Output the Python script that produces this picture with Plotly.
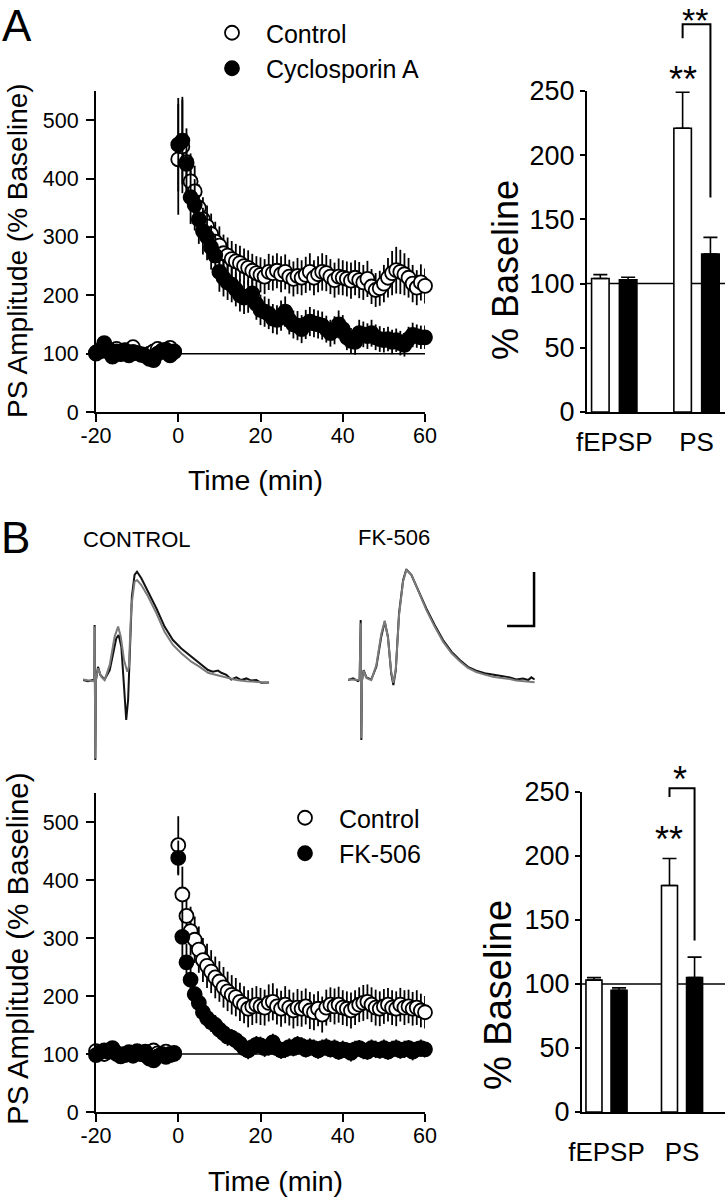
import plotly.graph_objects as go

W, H = 725, 1199
FONT = "Liberation Sans, Arial, Helvetica, sans-serif"

# ---------------- DATA ----------------
BASE_T = list(range(-20, 0))
POST_T = list(range(0, 61))
X_TICKS = [-20, 0, 20, 40, 60]
X_TICK_TEXT = ["-20", "0", "20", "40", "60"]
Y_TICKS_TC = [0, 100, 200, 300, 400, 500]
Y_TICKS_BAR = [0, 50, 100, 150, 200, 250]

# Panel A time course
A_CTRL_BASE = [102, 106, 110, 103, 100, 108, 99, 104, 106, 111, 101, 99, 97, 100, 104, 108, 105, 103, 110, 104]
A_CTRL_BASE_ERR = [6, 7, 8, 6, 7, 8, 6, 7, 7, 8, 6, 7, 6, 7, 7, 8, 7, 6, 8, 7]
A_CSA_BASE = [100, 104, 118, 108, 95, 104, 100, 106, 97, 103, 101, 98, 96, 91, 89, 100, 104, 107, 97, 103]
A_CSA_BASE_ERR = [8, 8, 9, 8, 7, 8, 8, 9, 8, 8, 7, 8, 8, 7, 8, 8, 9, 8, 8, 8]
A_CTRL_POST = [433, 455, 428, 395, 378, 350, 330, 318, 305, 292, 285, 272, 268, 262, 258, 255, 250, 247, 242, 238,
               235, 232, 240, 238, 242, 236, 240, 232, 228, 233, 230, 235, 240, 230, 236, 240, 238, 232, 226, 232,
               230, 228, 225, 230, 226, 222, 228, 215, 209, 212, 220, 230, 238, 243, 240, 236, 230, 220, 213, 222, 216]
A_CTRL_POST_ERR = [95, 80, 58, 48, 44, 40, 38, 36, 35, 34, 33, 32, 31, 31, 30, 30, 30, 30, 29, 29,
                   30, 30, 31, 30, 30, 31, 30, 29, 30, 31, 30, 31, 32, 30, 31, 32, 31, 30, 30, 31,
                   30, 30, 31, 30, 31, 30, 31, 30, 29, 30, 32, 34, 38, 40, 38, 36, 34, 32, 30, 31, 30]
A_CSA_POST = [458, 465, 425, 368, 355, 330, 310, 300, 282, 268, 240, 230, 222, 218, 210, 200, 196, 198, 203, 185,
              175, 172, 168, 160, 158, 165, 172, 158, 150, 148, 142, 150, 155, 152, 150, 148, 142, 135, 140, 150,
              142, 128, 122, 120, 135, 133, 130, 135, 128, 125, 123, 125, 120, 123, 118, 115, 125, 132, 130, 128, 128]
A_CSA_POST_ERR = [80, 75, 52, 46, 44, 42, 40, 40, 38, 36, 34, 32, 30, 30, 29, 28, 28, 28, 27, 27,
                  26, 26, 26, 25, 25, 26, 26, 25, 24, 25, 24, 25, 25, 24, 24, 24, 23, 23, 24, 24,
                  24, 22, 22, 22, 23, 22, 22, 23, 22, 22, 21, 21, 21, 20, 21, 20, 21, 21, 20, 20, 20]

# Panel B time course
B_CTRL_BASE = [105, 102, 100, 104, 108, 102, 98, 100, 103, 101, 105, 100, 98, 103, 106, 101, 99, 104, 100, 102]
B_CTRL_BASE_ERR = [5, 5, 6, 5, 6, 5, 5, 6, 5, 5, 6, 5, 5, 6, 5, 5, 6, 5, 5, 5]
B_FK_BASE = [98, 103, 106, 104, 110, 100, 96, 98, 101, 97, 103, 100, 104, 92, 89, 96, 100, 95, 98, 100]
B_FK_BASE_ERR = [6, 6, 7, 6, 7, 6, 6, 7, 6, 6, 7, 6, 6, 7, 6, 6, 7, 6, 6, 6]
B_CTRL_POST = [460, 375, 338, 312, 297, 280, 262, 252, 242, 232, 225, 215, 208, 202, 198, 190, 185, 178, 182, 185,
               182, 180, 188, 190, 182, 178, 185, 180, 175, 180, 178, 182, 175, 172, 178, 168, 180, 185, 182, 185,
               180, 178, 175, 180, 185, 188, 190, 185, 180, 178, 182, 185, 180, 178, 185, 180, 182, 178, 180, 175, 172]
B_CTRL_POST_ERR = [50, 48, 44, 42, 40, 40, 38, 38, 37, 36, 35, 35, 34, 34, 33, 33, 32, 32, 32, 32,
                   32, 31, 32, 32, 31, 31, 32, 31, 31, 32, 31, 31, 32, 31, 30, 31, 31, 30, 31, 31,
                   30, 30, 31, 30, 30, 31, 30, 30, 31, 30, 30, 29, 30, 30, 29, 30, 29, 29, 30, 29, 28]
B_FK_POST = [438, 302, 258, 228, 203, 188, 172, 162, 155, 150, 142, 136, 130, 128, 124, 118, 110, 106, 112, 116,
             115, 110, 112, 120, 110, 106, 108, 112, 110, 116, 114, 108, 112, 110, 106, 110, 112, 108, 110, 104,
             108, 106, 102, 108, 110, 106, 104, 110, 108, 106, 110, 104, 108, 110, 106, 108, 110, 104, 108, 110, 108]
B_FK_POST_ERR = [30, 45, 32, 26, 22, 20, 18, 18, 17, 17, 16, 16, 16, 15, 15, 15, 15, 15, 15, 15,
                 15, 15, 15, 15, 15, 14, 15, 15, 14, 15, 15, 14, 15, 15, 14, 15, 15, 14, 15, 14,
                 15, 14, 15, 15, 14, 15, 14, 15, 15, 14, 15, 14, 15, 15, 14, 15, 14, 15, 14, 15, 14]

# Bar summaries (% baseline)
BAR_CATS = ["fEPSP", "PS"]
A_BAR_CTRL = [104, 221]
A_BAR_CTRL_ERR = [3, 28]
A_BAR_CSA = [103, 123]
A_BAR_CSA_ERR = [2, 13]
B_BAR_CTRL = [103, 177]
B_BAR_CTRL_ERR = [2, 21]
B_BAR_FK = [95, 105]
B_BAR_FK_ERR = [2, 16]
# significance: (label over control PS, label over bracket), bracket (top, left foot, right foot)
A_SIG = ["**", "**"]
A_BRACKET = [302, 291, 167]
B_SIG = ["**", "*"]
B_BRACKET = [253, 246, 134]

# Example traces (ms, mV)
CTRL_T_BLACK = [0, 1.85, 3.7, 4.2, 4.3, 4.57, 4.8, 5.56, 6.42, 8.0, 9.9, 11.1, 12.3, 13.2, 14.2, 15.2, 16.0, 16.7,
                17.3, 18.1, 19.1, 20.0, 21.6, 24.1, 27.2, 30.2, 33.3, 36.4, 40.1, 43.2, 46.3, 48.1, 50.0, 51.2,
                53.1, 54.9, 56.8, 58.6, 60.5, 62.3, 64.2, 66.0, 68.9]
CTRL_V_BLACK = [0, -0.04, 0, 0.02, 2.04, -2.96, 0, 0.49, 0.19, 0.02, 0.37, 0.99, 1.54, 1.67, 1.23, -0.25, -1.48,
                -0.74, 0.74, 3.09, 3.89, 4.01, 3.77, 3.27, 2.65, 1.98, 1.48, 1.17, 0.86, 0.62, 0.37, 0.31, 0.35,
                0.27, 0.19, 0.02, 0.10, 0, 0.06, -0.02, 0, -0.10, -0.09]
CTRL_T_GRAY = [0, 3.7, 4.2, 4.3, 4.57, 4.8, 5.56, 6.8, 8.0, 9.9, 11.7, 13.0, 14.0, 15.2, 16.4, 17.0, 17.9, 19.1,
               20.0, 21.6, 24.1, 27.2, 30.2, 33.3, 36.4, 40.1, 43.2, 46.3, 49.4, 53.1, 56.8, 60.5, 64.2, 68.9]
CTRL_V_GRAY = [0.02, -0.04, 0, 1.98, -2.9, 0, 0.43, 0.12, 0, 0.56, 1.6, 1.98, 1.6, 0.74, 0.31, 0.49, 2.72, 3.64,
               3.70, 3.52, 3.09, 2.47, 1.79, 1.30, 0.99, 0.68, 0.49, 0.27, 0.19, 0.10, 0, -0.04, -0.06, -0.10]
FK_T_BLACK = [0, 1.85, 3.7, 4.3, 4.7, 4.94, 5.2, 5.8, 6.8, 8.6, 10.5, 12.3, 13.6, 14.8, 16.0, 16.8, 17.7, 18.9,
              20.4, 21.6, 23.5, 25.9, 29.0, 32.1, 35.2, 38.3, 41.4, 44.4, 47.5, 50.6, 53.7, 56.8, 59.9, 62.3,
              64.8, 66.7, 67.9, 69.1]
FK_V_BLACK = [0, 0.06, -0.04, 0, 2.22, -2.22, 0, 0.37, 0.10, 0.02, 0.49, 1.6, 2.16, 1.6, 0.25, -0.19, 0.37, 2.47,
              3.70, 4.10, 3.89, 3.33, 2.65, 2.04, 1.48, 1.05, 0.74, 0.49, 0.35, 0.25, 0.19, 0.15, 0.10, 0.02,
              0.06, 0, 0.10, 0.02]
FK_T_GRAY = [0, 3.7, 4.3, 4.7, 4.94, 5.2, 5.8, 6.8, 8.6, 10.5, 12.3, 13.6, 14.8, 16.0, 16.8, 17.7, 18.9, 20.4,
             21.6, 23.5, 25.9, 29.0, 32.1, 35.2, 38.3, 41.4, 44.4, 47.5, 50.6, 53.7, 56.8, 59.9, 62.3, 64.8,
             66.7, 69.1]
FK_V_GRAY = [0.02, 0, 0, 2.1, -2.15, 0, 0.35, 0.08, 0, 0.55, 1.7, 2.2, 1.55, 0.3, -0.1, 0.4, 2.4, 3.65, 4.08,
             3.9, 3.3, 2.6, 1.98, 1.42, 1.0, 0.7, 0.45, 0.3, 0.2, 0.12, 0.08, 0.04, -0.02, -0.04, -0.06, -0.08]
SCALE_MS = 10
SCALE_MV = 2

# ---------------- LAYOUT HELPERS ----------------
def fx(p):
    return p / W

def fy(p):
    return 1 - p / H

A_TC_X = [fx(96), fx(425)]
A_TC_Y = [fy(412), fy(91)]
B_TC_X = [fx(96), fx(425)]
B_TC_Y = [fy(1112), fy(793)]
A_BAR_X = [fx(587), 1.0]
A_BAR_Y = [fy(412), fy(91)]
B_BAR_X = [fx(582), 1.0]
B_BAR_Y = [fy(1112), fy(792)]
TR_Y = [fy(770), fy(555)]
TR1_X = [fx(83), fx(275)]
TR2_X = [fx(348), fx(540)]

fig = go.Figure()

def marker(fill):
    return dict(symbol="circle", size=14, color=fill, line=dict(color="black", width=1.8))

def err(arr):
    return dict(type="data", array=arr, visible=True, color="black", thickness=1.8, width=0)

def add_tc(xa, ya, base_c, base_ce, post_c, post_ce, base_t, base_te, post_t, post_te, names, legend):
    fig.add_trace(go.Scatter(x=BASE_T + POST_T, y=base_c + post_c, mode="markers", name=names[0],
                             marker=marker("white"), error_y=err(base_ce + post_ce), cliponaxis=False,
                             xaxis=xa, yaxis=ya, legend=legend))
    fig.add_trace(go.Scatter(x=BASE_T + POST_T, y=base_t + post_t, mode="markers", name=names[1],
                             marker=marker("black"), error_y=err(base_te + post_te), cliponaxis=False,
                             xaxis=xa, yaxis=ya, legend=legend))

add_tc("x", "y", A_CTRL_BASE, A_CTRL_BASE_ERR, A_CTRL_POST, A_CTRL_POST_ERR,
       A_CSA_BASE, A_CSA_BASE_ERR, A_CSA_POST, A_CSA_POST_ERR,
       ["\u00a0\u00a0Control", "\u00a0\u00a0Cyclosporin A"], "legend")
add_tc("x2", "y2", B_CTRL_BASE, B_CTRL_BASE_ERR, B_CTRL_POST, B_CTRL_POST_ERR,
       B_FK_BASE, B_FK_BASE_ERR, B_FK_POST, B_FK_POST_ERR,
       ["\u00a0\u00a0Control", "\u00a0\u00a0FK-506"], "legend2")

def add_bars(xa, ya, ctrl, ctrl_e, trt, trt_e, width, off):
    pos = list(range(len(BAR_CATS)))
    for vals, e, fill, o in [(ctrl, ctrl_e, "white", -off - width / 2), (trt, trt_e, "black", off - width / 2)]:
        fig.add_trace(go.Bar(x=pos, y=vals, width=width, offset=o, showlegend=False,
                             marker=dict(color=fill, line=dict(color="black", width=1.6)),
                             error_y=dict(type="data", array=e, arrayminus=[0] * len(e), symmetric=False,
                                          color="black", thickness=1.6, width=7),
                             xaxis=xa, yaxis=ya))

A_BAR_W, A_BAR_OFF = 0.213, 0.169
B_BAR_W, B_BAR_OFF = 0.212, 0.166
add_bars("x3", "y3", A_BAR_CTRL, A_BAR_CTRL_ERR, A_BAR_CSA, A_BAR_CSA_ERR, A_BAR_W, A_BAR_OFF)
add_bars("x4", "y4", B_BAR_CTRL, B_BAR_CTRL_ERR, B_BAR_FK, B_BAR_FK_ERR, B_BAR_W, B_BAR_OFF)

# example traces
for xa, ya, tb, vb, tg, vg in [("x5", "y5", CTRL_T_BLACK, CTRL_V_BLACK, CTRL_T_GRAY, CTRL_V_GRAY),
                               ("x6", "y6", FK_T_BLACK, FK_V_BLACK, FK_T_GRAY, FK_V_GRAY)]:
    fig.add_trace(go.Scatter(x=tb, y=vb, mode="lines", line=dict(color="#111111", width=2),
                             showlegend=False, xaxis=xa, yaxis=ya))
    fig.add_trace(go.Scatter(x=tg, y=vg, mode="lines", line=dict(color="#7a7a7a", width=2),
                             showlegend=False, xaxis=xa, yaxis=ya))

SB_T, SB_V = 68.9, 2.0  # scale-bar corner (layout)
fig.add_trace(go.Scatter(x=[SB_T - SCALE_MS, SB_T, SB_T], y=[SB_V, SB_V, SB_V + SCALE_MV], mode="lines",
                         line=dict(color="black", width=2.5), showlegend=False, xaxis="x6", yaxis="y6"))

# ---------------- AXES ----------------
tick_font_tc = dict(family=FONT, size=21.5, color="black")
tick_font_bar = dict(family=FONT, size=27, color="black")
common = dict(showgrid=False, zeroline=False, showline=True, linecolor="black", linewidth=2,
              ticks="outside", tickcolor="black", tickwidth=2, automargin=False)

layout_axes = {}
for i, (xd, yd, ya) in enumerate([(A_TC_X, A_TC_Y, "y"), (B_TC_X, B_TC_Y, "y2")]):
    xn = "xaxis" if i == 0 else "xaxis2"
    yn = "yaxis" if i == 0 else "yaxis2"
    layout_axes[xn] = dict(common, domain=xd, range=[-20, 60], tickvals=X_TICKS, ticktext=X_TICK_TEXT,
                           ticklen=8, tickfont=tick_font_tc, anchor=ya, ticklabelstandoff=-5)
    layout_axes[yn] = dict(common, domain=yd, range=[0, 550], tickvals=Y_TICKS_TC, ticklen=8,
                           tickfont=tick_font_tc, anchor="x" if i == 0 else "x2", ticklabelstandoff=3)

bar_ranges = {"3": [-0.331, 1.346], "4": [-0.3245, 1.569]}
for k, xd, yd in [("3", A_BAR_X, A_BAR_Y), ("4", B_BAR_X, B_BAR_Y)]:
    layout_axes["xaxis" + k] = dict(common, domain=xd, range=bar_ranges[k], ticks="", tickvals=[0, 1],
                                    ticktext=BAR_CATS, tickfont=dict(family=FONT, size=26, color="black"),
                                    anchor="y" + k, ticklabelstandoff=6 if k == "3" else 16)
    layout_axes["yaxis" + k] = dict(common, domain=yd, range=[0, 250], tickvals=Y_TICKS_BAR, ticklen=5,
                                    tickfont=tick_font_bar, anchor="x" + k)

for k, xd in [("5", TR1_X), ("6", TR2_X)]:
    layout_axes["xaxis" + k] = dict(domain=xd, range=[0, 71.1], visible=False, anchor="y" + k, automargin=False)
    layout_axes["yaxis" + k] = dict(domain=TR_Y, range=[-3.33, 4.63], visible=False, anchor="x" + k,
                                    automargin=False)

# ---------------- SHAPES ----------------
shapes = [
    dict(type="line", xref="x", yref="y", x0=-20, x1=60, y0=100, y1=100, layer="below",
         line=dict(color="black", width=1.5)),
    dict(type="line", xref="x2", yref="y2", x0=-20, x1=60, y0=100, y1=100, layer="below",
         line=dict(color="black", width=1.5)),
    dict(type="line", xref="x3 domain", yref="y3", x0=0, x1=1, y0=100, y1=100, layer="below",
         line=dict(color="black", width=1.5)),
    dict(type="line", xref="x4 domain", yref="y4", x0=0, x1=1, y0=100, y1=100, layer="below",
         line=dict(color="black", width=1.5)),
]

def bar_paper(v, dom):
    return dom[0] + v / 250 * (dom[1] - dom[0])

def bracket(xref, dom, off, br):
    top, lf, rf = br
    path = "M {0},{1} L {0},{2} L {3},{2} L {3},{4}".format(
        1 - off, bar_paper(lf, dom), bar_paper(top, dom), 1 + off, bar_paper(rf, dom))
    return dict(type="path", xref=xref, yref="paper", path=path, line=dict(color="black", width=2))

shapes.append(bracket("x3", A_BAR_Y, A_BAR_OFF, A_BRACKET))
shapes.append(bracket("x4", B_BAR_Y, B_BAR_OFF, B_BRACKET))

# ---------------- ANNOTATIONS ----------------
def ann(text, x, y, size, xanchor="center", angle=0, xref="paper", yref="paper", yanchor="middle"):
    return dict(text=text, x=x, y=y, xref=xref, yref=yref, showarrow=False, xanchor=xanchor,
                yanchor=yanchor, textangle=angle, borderpad=0,
                font=dict(family=FONT, size=size, color="black"))

annotations = [
    ann("A", fx(1), 1.0, 44, xanchor="left", yanchor="top"),
    ann("B", fx(0), fy(537), 44, xanchor="left"),
    ann("Time (min)", fx(255), fy(480), 28.5),
    ann("Time (min)", fx(275), fy(1181), 28.5),
    ann("PS Amplitude (% Baseline)", fx(17), fy(251), 28, angle=-90),
    ann("PS Amplitude (% Baseline)", fx(17), fy(949), 29.5, angle=-90),
    ann("% Baseline", fx(506), fy(270), 36, angle=-90),
    ann("% Baseline", fx(498), fy(995), 38, angle=-90),
    ann("CONTROL", fx(82), fy(540), 22, xanchor="left"),
    ann("FK-506", fx(357), fy(537), 22, xanchor="left"),
    # significance marks (y values in % baseline, converted to paper)
    ann(A_SIG[0], 1 - A_BAR_OFF, bar_paper(259, A_BAR_Y), 36, xref="x3"),
    ann(A_SIG[1], 0.98, 1.0, 34, xref="x3", yanchor="top"),
    ann(B_SIG[0], 1 - B_BAR_OFF, bar_paper(213, B_BAR_Y), 36, xref="x4"),
    ann(B_SIG[1], 0.97, bar_paper(260, B_BAR_Y), 36, xref="x4"),
]

fig.update_layout(
    template="none",
    width=W, height=H, margin=dict(l=0, r=0, t=0, b=0, pad=0, autoexpand=False),
    paper_bgcolor="white", plot_bgcolor="white",
    barmode="overlay",
    font=dict(family=FONT, color="black"),
    shapes=shapes, annotations=annotations,
    legend=dict(x=fx(212), y=fy(10), xanchor="left", yanchor="top", bgcolor="rgba(0,0,0,0)",
                font=dict(family=FONT, size=25, color="black"), itemclick=False),
    legend2=dict(x=fx(285), y=fy(795), xanchor="left", yanchor="top", bgcolor="rgba(0,0,0,0)",
                 font=dict(family=FONT, size=25, color="black"), itemclick=False),
    **layout_axes,
)

fig.write_html("out.html", config={"displayModeBar": False},
               post_script="document.body.style.margin='0px';document.body.style.padding='0px';"
                           "document.body.style.overflow='hidden';")
